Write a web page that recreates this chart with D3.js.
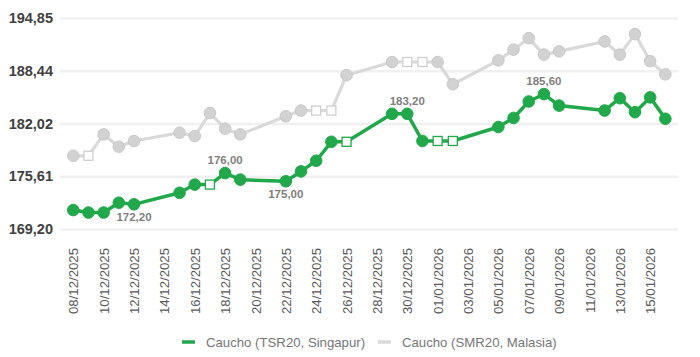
<!DOCTYPE html>
<html>
<head>
<meta charset="utf-8">
<script src="https://cdn.jsdelivr.net/npm/d3@7"></script>
<style>
  html, body { margin: 0; padding: 0; background: #fff; }
  svg { display: block; }
</style>
</head>
<body>
<svg id="chart" width="700" height="357"></svg>
<script>
// ---- Data ----
const dates = [
  "08/12/2025","09/12/2025","10/12/2025","11/12/2025","12/12/2025",
  "15/12/2025","16/12/2025","17/12/2025","18/12/2025","19/12/2025",
  "22/12/2025","23/12/2025","24/12/2025","25/12/2025","26/12/2025",
  "29/12/2025","30/12/2025","31/12/2025","01/01/2026","02/01/2026",
  "05/01/2026","06/01/2026","07/01/2026","08/01/2026","09/01/2026",
  "12/01/2026","13/01/2026","14/01/2026","15/01/2026","16/01/2026"
];
const tsr20 = [
  171.5, 171.2, 171.2, 172.4, 172.2,
  173.6, 174.6, 174.6, 176.0, 175.2,
  175.0, 176.2, 177.5, 179.8, 179.8,
  183.2, 183.2, 179.9, 179.9, 179.9,
  181.6, 182.7, 184.7, 185.6, 184.2,
  183.6, 185.1, 183.4, 185.2, 182.6
];
// 1 = no quote that day (drawn as hollow square)
const tsr20Missing = [
  0,0,0,0,0,
  0,0,1,0,0,
  0,0,0,0,1,
  0,0,0,1,1,
  0,0,0,0,0,
  0,0,0,0,0
];
const smr20 = [
  178.1, 178.1, 180.7, 179.2, 179.9,
  180.9, 180.5, 183.3, 181.4, 180.7,
  182.9, 183.6, 183.6, 183.6, 187.9,
  189.5, 189.5, 189.5, 189.5, 186.8,
  189.7, 191.0, 192.4, 190.4, 190.8,
  192.0, 190.4, 192.9, 189.6, 188.0
];
const smr20Missing = [
  0,1,0,0,0,
  0,0,0,0,0,
  0,0,1,1,0,
  0,1,1,0,0,
  0,0,0,0,0,
  0,0,0,0,0
];
const labelledPoints = [
  { date: "12/12/2025", pos: "below" },
  { date: "18/12/2025", pos: "above" },
  { date: "22/12/2025", pos: "below" },
  { date: "30/12/2025", pos: "above" },
  { date: "08/01/2026", pos: "above" }
];
const yTicks = [169.20, 175.61, 182.02, 188.44, 194.85];
const xTickLabels = [
  "08/12/2025","10/12/2025","12/12/2025","14/12/2025","16/12/2025",
  "18/12/2025","20/12/2025","22/12/2025","24/12/2025","26/12/2025",
  "28/12/2025","30/12/2025","01/01/2026","03/01/2026","05/01/2026",
  "07/01/2026","09/01/2026","11/01/2026","13/01/2026","15/01/2026"
];
const seriesNames = ["Caucho (TSR20, Singapur)", "Caucho (SMR20, Malasia)"];

// ---- Setup ----
const parse = d3.timeParse("%d/%m/%Y");
const fmt = d3.formatLocale({ decimal: ",", thousands: ".", grouping: [3], currency: ["", "€"] }).format(".2f");

const svg = d3.select("#chart");
const plotL = 60, plotR = 678, plotT = 18, plotB = 229;

const x = d3.scaleTime()
  .domain([new Date(2025, 11, 7, 3), new Date(2026, 0, 16, 20)])
  .range([plotL, plotR]);
const y = d3.scaleLinear()
  .domain([yTicks[0], yTicks[yTicks.length - 1]])
  .range([plotB, plotT]);

// Gridlines + y labels
const yAxis = d3.axisLeft(y)
  .tickValues(yTicks)
  .tickSize(-(plotR - plotL))
  .tickPadding(7)
  .tickFormat(d => fmt(d));
const gy = svg.append("g")
  .attr("transform", `translate(${plotL},0)`)
  .call(yAxis);
gy.select(".domain").remove();
gy.selectAll(".tick line").attr("stroke", "#f0f0f0").attr("stroke-width", 2.5);
gy.selectAll(".tick text")
  .attr("fill", "#404040")
  .style("font-family", "'Liberation Sans', Arial, sans-serif")
  .style("font-size", "14.5px")
  .style("font-weight", "bold");

// X axis labels
const xAxis = d3.axisBottom(x)
  .tickValues(xTickLabels.map(parse))
  .tickSize(0)
  .tickFormat(d3.timeFormat("%d/%m/%Y"));
const gx = svg.append("g")
  .attr("transform", `translate(0,${plotB})`)
  .call(xAxis);
gx.select(".domain").remove();
gx.selectAll(".tick text")
  .attr("fill", "#595959")
  .style("font-family", "'Liberation Sans', Arial, sans-serif")
  .style("font-size", "13.2px")
  .attr("transform", "rotate(-90)")
  .attr("text-anchor", "end")
  .attr("x", -19)
  .attr("y", 0)
  .attr("dy", "0.35em");

// ---- Series ----
function drawSeries(values, missing, color, markerFill, markerStroke, squareStroke, lw) {
  const data = dates.map((d, i) => ({ date: parse(d), v: values[i], miss: missing[i] }));
  const line = d3.line().x(d => x(d.date)).y(d => y(d.v));
  const g = svg.append("g");
  g.append("path").datum(data)
    .attr("d", line)
    .attr("fill", "none")
    .attr("stroke", color)
    .attr("stroke-width", lw)
    .attr("stroke-linejoin", "round");
  g.selectAll("circle").data(data.filter(d => !d.miss)).join("circle")
    .attr("cx", d => x(d.date)).attr("cy", d => y(d.v))
    .attr("r", 5.8)
    .attr("fill", markerFill)
    .attr("stroke", markerStroke)
    .attr("stroke-width", 1);
  const s = 9;
  g.selectAll("rect").data(data.filter(d => d.miss)).join("rect")
    .attr("x", d => x(d.date) - s / 2).attr("y", d => y(d.v) - s / 2)
    .attr("width", s).attr("height", s)
    .attr("fill", "#fff")
    .attr("stroke", squareStroke)
    .attr("stroke-width", 1.3);
  return data;
}

drawSeries(smr20, smr20Missing, "#d9d9d9", "#d2d2d2", "#c9c9c9", "#cfcfcf", 3.2);
drawSeries(tsr20, tsr20Missing, "#21a84a", "#21a84a", "#21a84a", "#21a84a", 3.5);

// Data labels
svg.append("g").selectAll("text").data(labelledPoints).join("text")
  .attr("x", d => x(parse(d.date)))
  .attr("y", d => {
    const v = tsr20[dates.indexOf(d.date)];
    return y(v) + (d.pos === "above" ? -13 : 13);
  })
  .attr("dy", "0.35em")
  .attr("text-anchor", "middle")
  .attr("fill", "#7f7f7f")
  .style("font-family", "'Liberation Sans', Arial, sans-serif")
  .style("font-size", "11.5px")
  .style("font-weight", "bold")
  .text(d => fmt(tsr20[dates.indexOf(d.date)]));

// Legend
const legend = svg.append("g").attr("transform", "translate(0,342)");
const legendItems = [
  { name: seriesNames[0], color: "#21a84a", x0: 182 },
  { name: seriesNames[1], color: "#d9d9d9", x0: 378 }
];
legendItems.forEach(it => {
  legend.append("line")
    .attr("x1", it.x0).attr("x2", it.x0 + 13)
    .attr("y1", 0).attr("y2", 0)
    .attr("stroke", it.color).attr("stroke-width", 3.5);
  legend.append("text")
    .attr("x", it.x0 + 24).attr("y", 0).attr("dy", "0.35em")
    .attr("fill", "#767676")
    .style("font-family", "'Liberation Sans', Arial, sans-serif")
    .style("font-size", "13.2px")
    .text(it.name);
});
</script>
</body>
</html>
